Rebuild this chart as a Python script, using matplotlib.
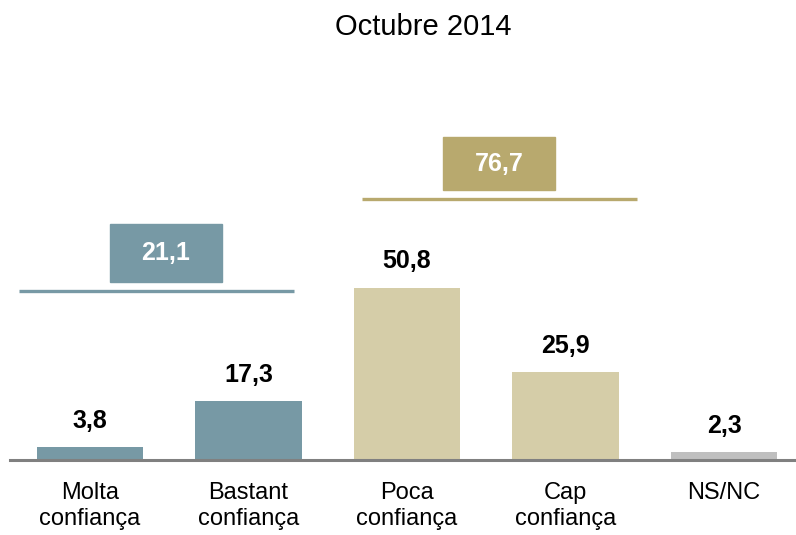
import matplotlib
matplotlib.use("Agg")
import matplotlib.pyplot as plt
from matplotlib.patches import Rectangle

plt.rcParams["font.family"] = ["Liberation Sans", "DejaVu Sans"]

# ── Data ──────────────────────────────────────────────────────
categories = ["Molta\nconfiança", "Bastant\nconfiança", "Poca\nconfiança",
              "Cap\nconfiança", "NS/NC"]
values = [3.8, 17.3, 50.8, 25.9, 2.3]
value_labels = ["3,8", "17,3", "50,8", "25,9", "2,3"]
group_totals = ["21,1", "76,7"]

BLUE = "#7799A5"
TAN = "#D5CDA8"
GOLD = "#B8A96E"
GREY = "#BFBFBF"
bar_colors = [BLUE, BLUE, TAN, TAN, GREY]

# ── Figure ────────────────────────────────────────────────────
W, H = 796, 535
fig = plt.figure(figsize=(W / 100, H / 100), dpi=100)
ax = fig.add_axes([10 / W, 75 / H, 786 / W, 460 / H])

x = range(len(values))
ax.bar(x, values, width=0.67, color=bar_colors, zorder=2)
ax.set_xlim(-0.505, 4.454)
ax.set_ylim(0, 135.7)

for xi, v, lab in zip(x, values, value_labels):
    ax.annotate(lab, (xi, v), xytext=(0, 10.5), textcoords="offset points",
                ha="center", va="bottom", fontsize=18, fontweight="bold")

# group brackets: line + boxed total
groups = [
    # (line x0, line x1, line y, box x0, box x1, box y0, box y1, colour)
    (-0.448, 1.287, 49.9, 0.126, 0.833, 52.5, 69.6, BLUE),
    (1.716, 3.451, 77.0, 2.227, 2.934, 79.6, 95.3, GOLD),
]
for total, (lx0, lx1, ly, bx0, bx1, by0, by1, col) in zip(group_totals, groups):
    ax.plot([lx0, lx1], [ly, ly], color=col, lw=2.4, clip_on=False,
            solid_capstyle="butt")
    ax.add_patch(Rectangle((bx0, by0), bx1 - bx0, by1 - by0, color=col,
                           clip_on=False))
    ax.text((bx0 + bx1) / 2, (by0 + by1) / 2, total, ha="center",
            va="center", color="white", fontsize=18, fontweight="bold")

for s in ["top", "right", "left"]:
    ax.spines[s].set_visible(False)
ax.spines["bottom"].set_color("#808080")
ax.spines["bottom"].set_linewidth(2.2)
ax.set_yticks([])
ax.set_xticks(list(x))
ax.set_xticklabels(categories, fontsize=17, linespacing=1.25)
ax.tick_params(axis="x", length=0, pad=16)

fig.text(423 / W, 1 - 27 / H, "Octubre 2014", ha="center", va="center",
         fontsize=21)

fig.savefig("out.png", dpi=100)
